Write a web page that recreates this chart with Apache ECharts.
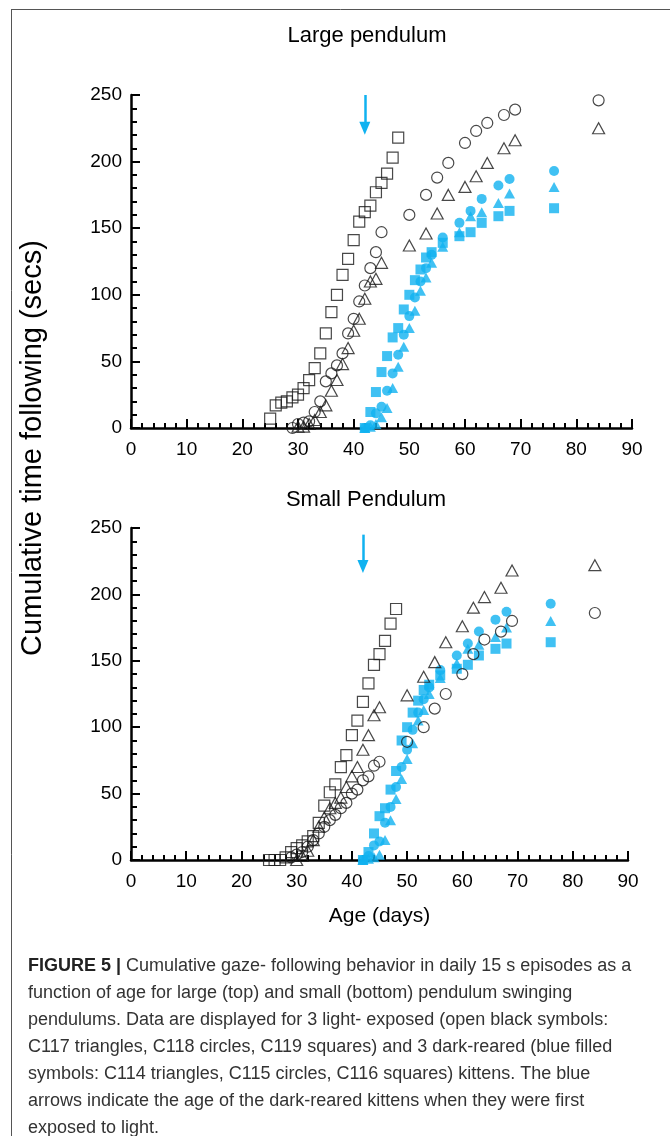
<!DOCTYPE html>
<html>
<head>
<meta charset="utf-8">
<script src="https://cdn.jsdelivr.net/npm/echarts@6/dist/echarts.min.js"></script>
<style>
  html, body { margin: 0; padding: 0; background: #fff; }
  #main { width: 670px; height: 1136px; }
</style>
</head>
<body>
<div id="main"></div>
<script>
// ---- Large pendulum ----
// light-exposed kittens (open black symbols)
const largeC117Days = [30, 31, 32, 33, 34, 35, 36, 37, 38, 39, 40, 41, 42, 43, 44, 45, 50, 53, 55, 57, 60, 62, 64, 67, 69, 84];
const largeC117 = [1, 1, 3, 6, 12, 17, 28, 36, 48, 60, 73, 82, 97, 110, 112, 124, 137, 146, 161, 175, 181, 189, 199, 210, 216, 225];
const largeC118Days = [29, 30, 31, 32, 33, 34, 35, 36, 37, 38, 39, 40, 41, 42, 43, 44, 45, 50, 53, 55, 57, 60, 62, 64, 67, 69, 84];
const largeC118 = [0, 3, 4, 5, 12, 20, 35, 41, 47, 56, 71, 82, 95, 107, 120, 132, 147, 160, 175, 188, 199, 214, 223, 229, 235, 239, 246];
const largeC119Days = [25, 26, 27, 28, 29, 30, 31, 32, 33, 34, 35, 36, 37, 38, 39, 40, 41, 42, 43, 44, 45, 46, 47, 48];
const largeC119 = [7, 17, 19, 20, 23, 25, 30, 36, 45, 56, 71, 87, 100, 115, 127, 141, 155, 162, 167, 177, 184, 191, 203, 218];
// dark-reared kittens (blue filled symbols)
const darkDays = [42, 43, 44, 45, 46, 47, 48, 49, 50, 51, 52, 53, 54, 56, 59, 61, 63, 66, 68, 76];
const largeC114 = [0, 1, 3, 8, 15, 30, 46, 61, 75, 88, 103, 113, 124, 136, 147, 159, 162, 169, 176, 181];
const largeC115 = [0, 2, 11, 16, 28, 41, 55, 70, 84, 98, 110, 120, 130, 143, 154, 163, 172, 182, 187, 193];
const largeC116 = [0, 12, 27, 42, 54, 68, 75, 89, 100, 111, 119, 128, 132, 139, 144, 147, 154, 159, 163, 165];

// ---- Small pendulum ----
const smallC117Days = [30, 31, 32, 33, 34, 35, 36, 37, 38, 39, 40, 41, 42, 43, 44, 45, 50, 53, 55, 57, 60, 62, 64, 67, 69, 84];
const smallC117 = [0, 3, 7, 15, 25, 32, 39, 43, 47, 55, 63, 70, 83, 94, 109, 115, 124, 138, 149, 164, 176, 190, 198, 205, 218, 222];
const smallC118Days = [29, 30, 31, 32, 33, 34, 35, 36, 37, 38, 39, 40, 41, 42, 43, 44, 45, 50, 53, 55, 57, 60, 62, 64, 67, 69, 84];
const smallC118 = [2, 4, 6, 10, 15, 20, 25, 30, 34, 39, 43, 50, 53, 60, 63, 71, 74, 89, 100, 114, 125, 140, 155, 166, 172, 180, 186];
const smallC119Days = [25, 26, 27, 28, 29, 30, 31, 32, 33, 34, 35, 36, 37, 38, 39, 40, 41, 42, 43, 44, 45, 46, 47, 48];
const smallC119 = [0, 0, 0, 2, 6, 9, 11, 14, 18, 28, 41, 51, 57, 70, 79, 94, 105, 119, 133, 147, 155, 165, 178, 189];
const smallC114 = [0, 1, 2, 4, 15, 30, 46, 61, 76, 88, 105, 113, 125, 137, 148, 159, 162, 168, 175, 180];
const smallC115 = [0, 3, 11, 14, 28, 40, 55, 70, 83, 98, 111, 121, 130, 143, 154, 163, 172, 181, 187, 193];
const smallC116 = [0, 6, 20, 33, 39, 53, 67, 90, 100, 111, 120, 128, 132, 139, 144, 147, 154, 159, 163, 164];

// age when dark-reared kittens were first exposed to light (arrows)
const exposureDay = 42;

const FONT = '"Liberation Sans", Arial, Helvetica, sans-serif';
const BLUE = '#10b2f0';
const INK = '#1a1a1a';

const chart = echarts.init(document.getElementById('main'));

const pairs = (days, vals) => days.map((d, i) => [d, vals[i]]);

function xAxisFor(gi, extra) {
  return Object.assign({
    gridIndex: gi, type: 'value', min: 0, max: 90, interval: 10,
    axisLine: { show: true, onZero: false, lineStyle: { color: '#000', width: 2.5 } },
    axisTick: { show: true, inside: true, length: 9, lineStyle: { color: '#000', width: 2 } },
    minorTick: { show: true, splitNumber: 5, length: 5, lineStyle: { color: '#000', width: 2 } },
    splitLine: { show: false },
    axisLabel: { color: '#000', fontSize: 19, fontFamily: FONT, margin: 12 }
  }, extra || {});
}

function yAxisFor(gi) {
  return {
    gridIndex: gi, type: 'value', min: 0, max: 250, interval: 50,
    axisLine: { show: true, onZero: false, lineStyle: { color: '#000', width: 2.5 } },
    axisTick: { show: true, inside: true, length: 9, lineStyle: { color: '#000', width: 2 } },
    minorTick: { show: true, splitNumber: 5, length: 6, lineStyle: { color: '#000', width: 2 } },
    splitLine: { show: false },
    axisLabel: { color: '#000', fontSize: 19, fontFamily: FONT, margin: 9 }
  };
}

function openSeries(name, gi, data, symbol, size) {
  return {
    name, type: 'scatter', xAxisIndex: gi, yAxisIndex: gi, data, symbol, symbolSize: size,
    itemStyle: { color: 'rgba(255,255,255,0)', borderColor: INK, borderWidth: 1.2 },
    z: 4
  };
}

function darkSeries(name, gi, data, symbol, size) {
  return {
    name, type: 'scatter', xAxisIndex: gi, yAxisIndex: gi, data, symbol, symbolSize: size,
    itemStyle: { color: BLUE },
    z: 3
  };
}

function arrow(top, end) {
  return {
    silent: true, symbol: ['none', 'triangle'], symbolSize: [11, 13],
    label: { show: false },
    lineStyle: { color: BLUE, width: 2.5, type: 'solid' },
    data: [[{ coord: [exposureDay, top] }, { coord: [exposureDay, end] }]]
  };
}

const captionText =
  '{b|FIGURE 5 |} Cumulative gaze- following behavior in daily 15 s episodes as a\n' +
  'function of age for large (top) and small (bottom) pendulum swinging\n' +
  'pendulums. Data are displayed for 3 light- exposed (open black symbols:\n' +
  'C117 triangles, C118 circles, C119 squares) and 3 dark-reared (blue filled\n' +
  'symbols: C114 triangles, C115 circles, C116 squares) kittens. The blue\n' +
  'arrows indicate the age of the dark-reared kittens when they were first\n' +
  'exposed to light.';

const option = {
  animation: false,
  backgroundColor: '#fff',
  grid: [
    { left: 131, top: 95, width: 501, height: 333 },
    { left: 131, top: 528, width: 497, height: 332 }
  ],
  xAxis: [
    xAxisFor(0),
    xAxisFor(1, {
      name: 'Age (days)', nameLocation: 'middle', nameGap: 46,
      nameTextStyle: { color: '#000', fontSize: 21, fontFamily: FONT }
    })
  ],
  yAxis: [yAxisFor(0), yAxisFor(1)],
  series: [
    darkSeries('C114', 0, pairs(darkDays, largeC114), 'triangle', [11, 10]),
    darkSeries('C115', 0, pairs(darkDays, largeC115), 'circle', 10),
    Object.assign(darkSeries('C116', 0, pairs(darkDays, largeC116), 'rect', 10), { markLine: arrow(250, 225) }),
    openSeries('C117', 0, pairs(largeC117Days, largeC117), 'triangle', [12, 11]),
    openSeries('C118', 0, pairs(largeC118Days, largeC118), 'circle', 11),
    openSeries('C119', 0, pairs(largeC119Days, largeC119), 'rect', 11),

    darkSeries('C114', 1, pairs(darkDays, smallC114), 'triangle', [11, 10]),
    darkSeries('C115', 1, pairs(darkDays, smallC115), 'circle', 10),
    Object.assign(darkSeries('C116', 1, pairs(darkDays, smallC116), 'rect', 10), { markLine: arrow(245, 221) }),
    openSeries('C117', 1, pairs(smallC117Days, smallC117), 'triangle', [12, 11]),
    openSeries('C118', 1, pairs(smallC118Days, smallC118), 'circle', 11),
    openSeries('C119', 1, pairs(smallC119Days, smallC119), 'rect', 11)
  ],
  graphic: [
    // figure frame
    { type: 'line', silent: true, shape: { x1: 11, y1: 9.5, x2: 670, y2: 9.5 }, style: { stroke: '#555', lineWidth: 1 } },
    { type: 'line', silent: true, shape: { x1: 11.5, y1: 9, x2: 11.5, y2: 1136 }, style: { stroke: '#555', lineWidth: 1 } },
    // panel titles
    { type: 'text', x: 367, y: 36, style: { text: 'Large pendulum', font: '22px ' + FONT, fill: '#000', align: 'center', verticalAlign: 'middle' } },
    { type: 'text', x: 366, y: 500, style: { text: 'Small Pendulum', font: '22px ' + FONT, fill: '#000', align: 'center', verticalAlign: 'middle' } },
    // shared y axis title
    { type: 'text', x: 33, y: 448, rotation: Math.PI / 2,
      style: { text: 'Cumulative time following (secs)', font: '29px ' + FONT, fill: '#000', align: 'center', verticalAlign: 'middle' } },
    // caption
    { type: 'text', x: 28, y: 953,
      style: {
        text: captionText, font: '18px ' + FONT, fill: '#333', lineHeight: 27,
        align: 'left', verticalAlign: 'top',
        rich: { b: { fontWeight: 'bold', fontSize: 18, fontFamily: FONT, fill: '#222', lineHeight: 27 } }
      } }
  ]
};

chart.setOption(option);
</script>
</body>
</html>
